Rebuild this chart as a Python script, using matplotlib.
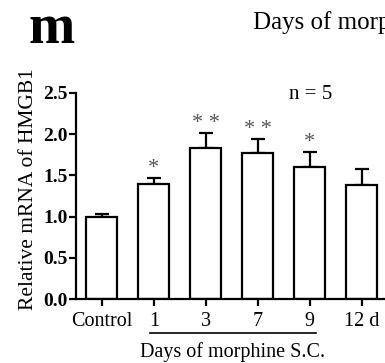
import numpy as np
import matplotlib.pyplot as plt
import matplotlib.transforms as mtransforms

plt.rcParams['font.family'] = ['Liberation Serif', 'DejaVu Serif']

# data
groups = ['Control', '1', '3', '7', '9', '12 d']
means = [1.00, 1.39, 1.83, 1.77, 1.60, 1.38]
sems = [0.03, 0.08, 0.18, 0.17, 0.18, 0.20]
stars = ['', '*', '* *', '* *', '*', '']

fig = plt.figure(figsize=(3.85, 3.63), dpi=100)
ax = fig.add_axes([0.197, 0.176, 0.81, 0.568])

x = np.arange(len(groups))
ax.bar(x, means, width=0.6, color='white', edgecolor='black', linewidth=1.6, zorder=2)
ax.errorbar(x, means, yerr=[np.zeros(len(sems)), sems], fmt='none', ecolor='black',
            elinewidth=1.6, capsize=5, capthick=1.6, zorder=1)

for xi, m, s, st in zip(x, means, sems, stars):
    if st:
        ax.text(xi, m + s + 0.0, st, ha='center', va='bottom', fontsize=16, color='#555555')

ax.set_xlim(-0.5, 5.5)
ax.set_ylim(0, 2.5)
ax.set_yticks([0, 0.5, 1.0, 1.5, 2.0, 2.5])
ax.set_yticklabels(['0.0', '0.5', '1.0', '1.5', '2.0', '2.5'], fontweight='bold', fontsize=14)
ax.set_xticks(x)
ax.set_xticklabels(groups, fontsize=14.5)
ax.tick_params(axis='both', width=1.6, length=5, direction='out')
ax.tick_params(axis='y', pad=1)
ax.tick_params(axis='x', pad=4)
for side in ['top', 'right']:
    ax.spines[side].set_visible(False)
for side in ['left', 'bottom']:
    ax.spines[side].set_linewidth(1.6)

ax.set_ylabel('Relative mRNA of HMGB1', fontsize=15.5)
ax.yaxis.set_label_coords(-0.12, 0.534)
ax.text(4.02, 2.48, 'n = 5', ha='center', va='center', fontsize=15)

# underline under the morphine days
trans = mtransforms.blended_transform_factory(ax.transData, ax.transAxes)
ax.plot([0.92, 4.13], [-0.165, -0.165], color='black', linewidth=1.2,
        transform=trans, clip_on=False)
ax.text(2.52, -0.255, 'Days of morphine S.C.', ha='center', va='center',
        fontsize=14.5, transform=trans)

fig.text(0.075, 0.92, 'm', fontsize=40, fontweight='bold', ha='left', va='center')
fig.text(0.657, 0.938, 'Days of morphine S.C.', fontsize=18, ha='left', va='center')

fig.savefig('out.png', dpi=100)
